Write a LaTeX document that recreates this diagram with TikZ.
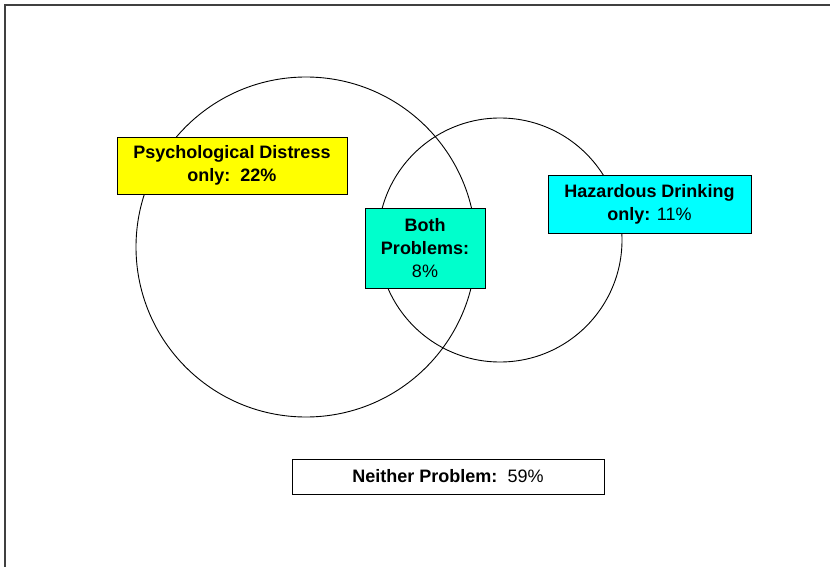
\documentclass[tikz,border=0pt]{standalone}
\usepackage{fontspec}
\setmainfont{Liberation Sans}
\definecolor{distresscolor}{HTML}{FFFF00}
\definecolor{bothcolor}{HTML}{00FFCC}
\definecolor{drinkcolor}{HTML}{00FFFF}

\begin{document}
\begin{tikzpicture}[
    x=1pt, y=-1pt,
    align=center,
    font=\fontsize{18}{23}\selectfont,
    set/.style={draw=black, circle, inner sep=0pt, line width=0.9pt},
    label box/.style={draw=black, rectangle, line width=0.8pt, inner sep=0pt, align=center},
    distress/.style={label box, fill=distresscolor, minimum width=230pt, minimum height=57pt},
    both/.style={label box, fill=bothcolor, minimum width=120pt, minimum height=80pt},
    drink/.style={label box, fill=drinkcolor, minimum width=203pt, minimum height=58pt},
    neither/.style={label box, fill=white, minimum width=312pt, minimum height=35pt}
]

    % =========================================================================
    % FRAME
    % =========================================================================
    \useasboundingbox (0, 0) rectangle (830, 567);
    \draw [draw=black!75, line width=1.2pt] (5, 567) -- (5, 5) -- (830, 5);

    % =========================================================================
    % SETS
    % =========================================================================
    \node (distress_set) [set, minimum size=340pt] at (306, 247) {};
    \node (drink_set) [set, minimum size=244pt] at (500, 240) {};

    % =========================================================================
    % LABELS
    % =========================================================================
    \node (distress_lbl) [distress] at (232, 165.5) {\bfseries Psychological Distress\\\bfseries only:\ \ 22\%};
    \node (both_lbl) [both] at (425, 248) {\bfseries Both\\\bfseries Problems:\\8\%};
    \node (drink_lbl) [drink] at (649.5, 204) {\bfseries Hazardous Drinking\\{\bfseries only:} 11\%};
    \node (neither_lbl) [neither] at (448, 476.5) {{\bfseries Neither Problem:}\ \ 59\%};

\end{tikzpicture}
\end{document}
